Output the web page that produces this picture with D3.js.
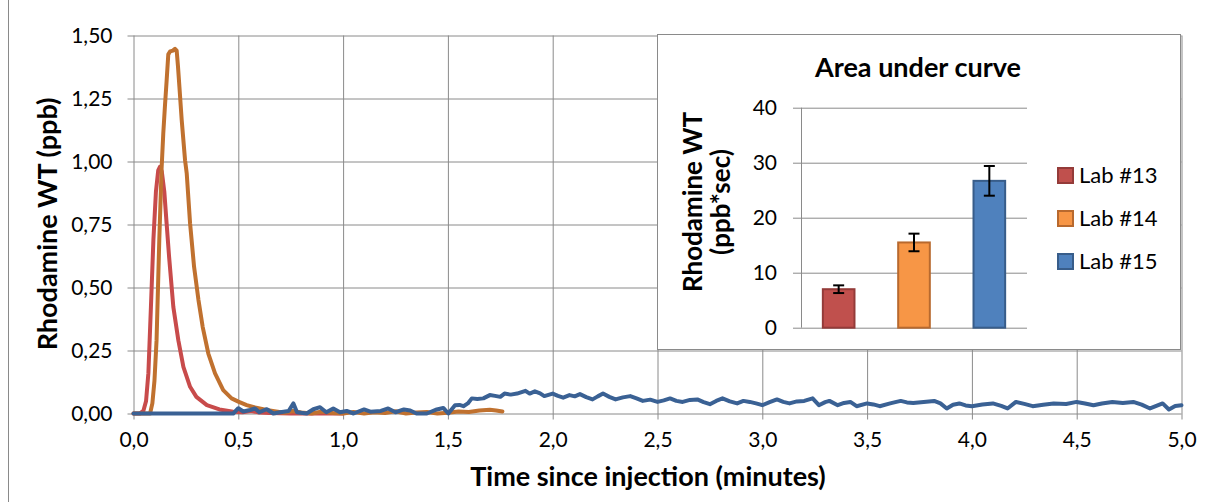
<!DOCTYPE html>
<html>
<head>
<meta charset="utf-8">
<script src="https://cdn.jsdelivr.net/npm/d3@7"></script>
<style>
  html, body { margin: 0; padding: 0; background: #fff; }
  svg { display: block; }
  text { font-family: Lato, "Open Sans", sans-serif; fill: #000; }
</style>
</head>
<body>
<svg id="chart" width="1214" height="502"></svg>
<script>
// ---------- Data ----------
const xTicks = [0, 0.5, 1, 1.5, 2, 2.5, 3, 3.5, 4, 4.5, 5];
const yTicks = [0, 0.25, 0.5, 0.75, 1, 1.25, 1.5];

const lab13 = [[0,0],[0.03,0],[0.047,0.01],[0.06,0.05],[0.071,0.16],[0.083,0.42],[0.095,0.69],[0.107,0.88],[0.118,0.965],[0.126,0.979],[0.135,0.96],[0.147,0.88],[0.158,0.754],[0.17,0.62],[0.19,0.423],[0.214,0.29],[0.238,0.185],[0.27,0.106],[0.30,0.066],[0.35,0.033],[0.41,0.016],[0.476,0.007],[0.52,0.005],[0.56,0.01],[0.6,0.004],[0.65,0.002],[0.75,0],[1.0,0]];

const lab14 = [[0,0],[0.06,0],[0.079,0],[0.09,0.04],[0.1,0.13],[0.11,0.29],[0.123,0.688],[0.134,0.97],[0.142,1.11],[0.15,1.22],[0.158,1.32],[0.166,1.425],[0.175,1.437],[0.188,1.44],[0.198,1.447],[0.206,1.44],[0.212,1.38],[0.219,1.297],[0.23,1.164],[0.246,1.005],[0.254,0.952],[0.27,0.754],[0.289,0.582],[0.31,0.45],[0.33,0.344],[0.357,0.238],[0.389,0.159],[0.428,0.093],[0.468,0.06],[0.5,0.047],[0.54,0.033],[0.58,0.024],[0.635,0.014],[0.68,0.008],[0.72,0.003],[0.76,0.01],[0.8,0.004],[0.85,0],[0.9,0.008],[0.95,0.002],[1.0,0],[1.05,0.006],[1.1,0],[1.15,0.005],[1.2,0.002],[1.25,0.009],[1.3,0],[1.35,0.004],[1.4,0.006],[1.45,0],[1.5,0.003],[1.55,0.008],[1.6,0.006],[1.65,0.012],[1.7,0.015],[1.73,0.012],[1.76,0.008]];

const lab15 = [[0,0],[0.476,0],[0.5,0.021],[0.524,0.008],[0.556,0.014],[0.58,0.02],[0.6,0.005],[0.636,0.017],[0.667,0],[0.7,0.005],[0.74,0.01],[0.763,0.04],[0.78,0.005],[0.826,0],[0.858,0.017],[0.89,0.025],[0.92,0.005],[0.953,0.02],[0.985,0.005],[1.017,0.01],[1.05,0],[1.1,0.016],[1.13,0.007],[1.18,0.01],[1.215,0.02],[1.25,0.005],[1.29,0.016],[1.32,0.012],[1.35,0],[1.4,0],[1.447,0.016],[1.478,0.022],[1.502,0],[1.534,0.033],[1.555,0.034],[1.574,0.029],[1.595,0.04],[1.614,0.06],[1.64,0.058],[1.669,0.06],[1.70,0.073],[1.725,0.07],[1.75,0.066],[1.77,0.079],[1.80,0.075],[1.83,0.079],[1.87,0.09],[1.89,0.079],[1.915,0.088],[1.94,0.08],[1.96,0.069],[1.98,0.074],[2.0,0.079],[2.025,0.07],[2.05,0.063],[2.08,0.073],[2.105,0.068],[2.13,0.077],[2.16,0.065],[2.19,0.056],[2.215,0.068],[2.24,0.079],[2.27,0.066],[2.3,0.056],[2.335,0.064],[2.37,0.069],[2.4,0.06],[2.43,0.05],[2.465,0.055],[2.5,0.046],[2.53,0.052],[2.56,0.06],[2.59,0.05],[2.62,0.046],[2.655,0.054],[2.69,0.056],[2.72,0.045],[2.75,0.037],[2.78,0.05],[2.81,0.06],[2.845,0.048],[2.88,0.04],[2.91,0.05],[2.94,0.046],[2.97,0.04],[3.0,0.033],[3.035,0.045],[3.07,0.056],[3.1,0.046],[3.13,0.04],[3.165,0.048],[3.2,0.05],[3.24,0.06],[3.27,0.033],[3.3,0.045],[3.32,0.05],[3.36,0.033],[3.39,0.042],[3.42,0.046],[3.45,0.029],[3.5,0.04],[3.53,0.036],[3.56,0.029],[3.61,0.04],[3.66,0.05],[3.69,0.044],[3.72,0.042],[3.77,0.046],[3.82,0.05],[3.85,0.04],[3.88,0.02],[3.91,0.035],[3.94,0.04],[3.97,0.032],[4.0,0.029],[4.05,0.036],[4.1,0.04],[4.14,0.03],[4.17,0.02],[4.21,0.046],[4.25,0.038],[4.29,0.029],[4.34,0.035],[4.39,0.04],[4.45,0.038],[4.5,0.046],[4.54,0.04],[4.58,0.033],[4.62,0.04],[4.67,0.046],[4.72,0.042],[4.77,0.046],[4.81,0.035],[4.85,0.02],[4.88,0.03],[4.91,0.04],[4.94,0.016],[4.97,0.03],[5.0,0.033]];

const labs = ["Lab #13", "Lab #14", "Lab #15"];
const areaValues = [7.0, 15.5, 26.7];
const areaErrors = [0.7, 1.6, 2.7];
const insetTicks = [0, 10, 20, 30, 40];

const lineColors = ["#C84B4B", "#C0712F", "#3A6194"];
const barFill = ["#C0504D", "#F79646", "#4F81BD"];
const barStroke = ["#943B39", "#B8692E", "#385D8A"];

// ---------- Setup ----------
const svg = d3.select("#chart");
const grid = "#8a8a8a";
const loc = d3.formatLocale({decimal: ",", thousands: ".", grouping: [3], currency: ["", ""]});

svg.append("line").attr("x1", 8.5).attr("x2", 8.5).attr("y1", 0).attr("y2", 502)
  .attr("stroke", grid).attr("stroke-width", 1);

const L = 133.5, R = 1181.5, T = 35.5, B = 413.5;
const x = d3.scaleLinear().domain([0, 5]).range([L, R]);
const y = d3.scaleLinear().domain([0, 1.5]).range([B, T]);

const yAx = svg.append("g").attr("transform", `translate(${L - 6},0)`)
  .call(d3.axisLeft(y).tickValues(yTicks).tickSize(-(R - L + 6)).tickPadding(15)
    .tickFormat(loc.format(".2f")));
yAx.select(".domain").remove();
yAx.selectAll("line").attr("stroke", grid);
yAx.selectAll("text").attr("font-size", 21).style("font-family", "Lato, sans-serif");

const xAx = svg.append("g").attr("transform", `translate(0,${B + 6})`)
  .call(d3.axisBottom(x).tickValues(xTicks).tickSizeInner(-(B + 6 - T)).tickPadding(13)
    .tickFormat(loc.format(".1f")));
xAx.select(".domain").remove();
xAx.selectAll("line").attr("stroke", grid);
xAx.selectAll("text").attr("font-size", 21).style("font-family", "Lato, sans-serif");

svg.append("text").attr("x", 648).attr("y", 486).attr("text-anchor", "middle")
  .attr("font-size", 27).attr("font-weight", "bold").text("Time since injection (minutes)");
svg.append("text").attr("transform", `translate(57,224) rotate(-90)`).attr("text-anchor", "middle")
  .attr("font-size", 27).attr("font-weight", "bold").text("Rhodamine WT (ppb)");

const line = d3.line().x(d => x(d[0])).y(d => y(d[1])).curve(d3.curveLinear);
[lab13, lab14, lab15].forEach((s, i) => {
  svg.append("path").datum(s).attr("d", line).attr("fill", "none")
    .attr("stroke", lineColors[i]).attr("stroke-width", 4)
    .attr("stroke-linejoin", "round").attr("stroke-linecap", "round");
});

// ---------- Inset ----------
const ins = svg.append("g");
ins.append("rect").attr("x", 657.5).attr("y", 34.5).attr("width", 523).attr("height", 315)
  .attr("fill", "#fff").attr("stroke", grid).attr("stroke-width", 1);

const iL = 801, iR = 1027, iT = 107.7, iB = 327.7;
const yi = d3.scaleLinear().domain([0, 40]).range([iB, iT]);
const xi = d3.scaleBand().domain(labs).range([iL, iR]).paddingInner(0.58).paddingOuter(0.29);

const yiAx = ins.append("g").attr("transform", `translate(${iL - 8},0)`)
  .call(d3.axisLeft(yi).tickValues(insetTicks).tickSize(-(iR - iL + 8)).tickPadding(16));
yiAx.select(".domain").remove();
yiAx.selectAll("line").attr("stroke", grid);
yiAx.selectAll("text").attr("font-size", 21).style("font-family", "Lato, sans-serif");
ins.append("line").attr("x1", iL + 0.5).attr("x2", iL + 0.5).attr("y1", iT).attr("y2", iB)
  .attr("stroke", grid);

ins.selectAll("rect.bar").data(labs).enter().append("rect").attr("class", "bar")
  .attr("x", d => xi(d)).attr("width", xi.bandwidth())
  .attr("y", (d, i) => yi(areaValues[i])).attr("height", (d, i) => yi(0) - yi(areaValues[i]))
  .attr("fill", (d, i) => barFill[i]).attr("stroke", (d, i) => barStroke[i]).attr("stroke-width", 2);

labs.forEach((d, i) => {
  const cx = xi(d) + xi.bandwidth() / 2;
  const y1 = yi(areaValues[i] + areaErrors[i]), y2 = yi(areaValues[i] - areaErrors[i]);
  const g = ins.append("g").attr("stroke", "#000").attr("stroke-width", 2);
  g.append("line").attr("x1", cx).attr("x2", cx).attr("y1", y1).attr("y2", y2);
  g.append("line").attr("x1", cx - 5.5).attr("x2", cx + 5.5).attr("y1", y1).attr("y2", y1);
  g.append("line").attr("x1", cx - 5.5).attr("x2", cx + 5.5).attr("y1", y2).attr("y2", y2);
});

ins.append("text").attr("x", 918).attr("y", 77).attr("text-anchor", "middle")
  .attr("font-size", 27).attr("font-weight", "bold").text("Area under curve");
const yt = ins.append("text").attr("transform", `translate(702,202) rotate(-90)`)
  .attr("text-anchor", "middle").attr("font-size", 26).attr("font-weight", "bold");
yt.append("tspan").attr("x", 0).attr("y", 0).text("Rhodamine WT");
yt.append("tspan").attr("x", 0).attr("y", 28).text("(ppb*sec)");

const leg = ins.selectAll("g.leg").data(labs).enter().append("g").attr("class", "leg")
  .attr("transform", (d, i) => `translate(1057,${175 + i * 43})`);
leg.append("rect").attr("x", 1).attr("y", -7).attr("width", 15).attr("height", 15)
  .attr("fill", (d, i) => barFill[i]).attr("stroke", (d, i) => barStroke[i]).attr("stroke-width", 2);
leg.append("text").attr("x", 22).attr("y", 8).attr("font-size", 22).text(d => d);
</script>
</body>
</html>
